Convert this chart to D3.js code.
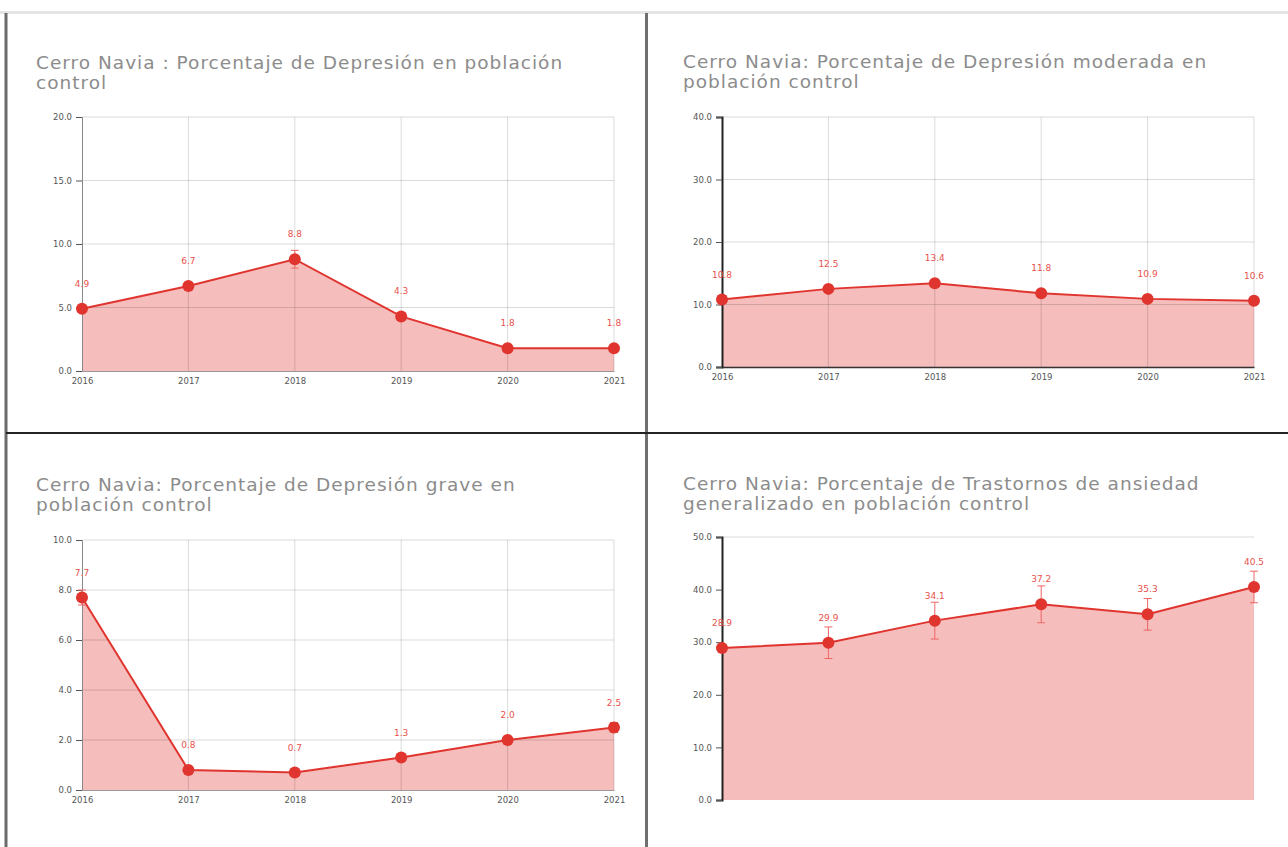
<!DOCTYPE html>
<html>
<head>
<meta charset="utf-8">
<script src="https://cdn.jsdelivr.net/npm/d3@7"></script>
<style>
  body { margin: 0; background: #fff; }
  svg { display: block; }
  .tick text { font-family: "DejaVu Sans", sans-serif; font-size: 8.5px; fill: #555; }
  .title { font-family: "DejaVu Sans", sans-serif; fill: #8c8c8c; letter-spacing: 1px; }
  .vlabel { font-family: "DejaVu Sans", sans-serif; font-size: 9px; fill: #e8524c; }
</style>
</head>
<body>
<div id="vis"></div>
<script>
const W = 1288, H = 847

// data
const years = ["2016", "2017", "2018", "2019", "2020", "2021"]

const titles = [
    ["Cerro Navia : Porcentaje de Depresión en población", "control"],
    ["Cerro Navia: Porcentaje de Depresión moderada en", "población control"],
    ["Cerro Navia: Porcentaje de Depresión grave en", "población control"],
    ["Cerro Navia: Porcentaje de Trastornos de ansiedad", "generalizado  en población control"]
]

const depresion = [4.9, 6.7, 8.8, 4.3, 1.8, 1.8]
const depresionModerada = [10.8, 12.5, 13.4, 11.8, 10.9, 10.6]
const depresionGrave = [7.7, 0.8, 0.7, 1.3, 2.0, 2.5]
const ansiedad = [28.9, 29.9, 34.1, 37.2, 35.3, 40.5]

// half-width of the error bars (0 = none drawn)
const errDepresion = [0, 0, 0.7, 0, 0, 0]
const errModerada = [0, 0, 0, 0, 0, 0]
const errGrave = [0.3, 0, 0, 0, 0, 0.2]
const errAnsiedad = [0, 3.0, 3.5, 3.5, 3.0, 3.0]

const yMax = [20, 40, 10, 50]
const yStep = [5, 10, 2, 10]

const series = [depresion, depresionModerada, depresionGrave, ansiedad]
const errors = [errDepresion, errModerada, errGrave, errAnsiedad]

// layout of each panel (pixel boxes)
const panels = [
    {titleX: 36,  titleY: 69,  left: 82,  right: 614,  top: 117, bottom: 371, axisDark: false, grid: true,  xLabels: true},
    {titleX: 683, titleY: 68,  left: 722, right: 1254, top: 117, bottom: 367, axisDark: true,  grid: true,  xLabels: true},
    {titleX: 36,  titleY: 491, left: 82,  right: 614,  top: 540, bottom: 790, axisDark: false, grid: true,  xLabels: true},
    {titleX: 683, titleY: 490, left: 722, right: 1254, top: 537, bottom: 800, axisDark: true,  grid: false, xLabels: false}
]

const red = "#e0342f"
const areaFill = "#f5bdbb"

const svg = d3.select("#vis").append("svg")
    .attr("width", W)
    .attr("height", H)

// frame lines
svg.append("rect").attr("x", 0).attr("y", 11).attr("width", W).attr("height", 3).attr("fill", "#e4e4e4")
svg.append("line").attr("x1", 6).attr("x2", 6).attr("y1", 13).attr("y2", H)
    .attr("stroke", "#6b6b6b").attr("stroke-width", 3)
svg.append("line").attr("x1", 646.5).attr("x2", 646.5).attr("y1", 13).attr("y2", H)
    .attr("stroke", "#6f6f6f").attr("stroke-width", 3)
svg.append("line").attr("x1", 6).attr("x2", W).attr("y1", 433).attr("y2", 433)
    .attr("stroke", "#222").attr("stroke-width", 2)

panels.forEach((p, i) => {
    const data = series[i].map((v, j) => ({year: years[j], value: v, err: errors[i][j]}))
    const g = svg.append("g")

    const x = d3.scalePoint().domain(years).range([p.left, p.right])
    const y = d3.scaleLinear().domain([0, yMax[i]]).range([p.bottom, p.top])
    const ticks = d3.range(0, yMax[i] + 0.001, yStep[i])

    // title
    const t = g.append("text").attr("class", "title")
        .attr("x", p.titleX)
        .attr("y", p.titleY)
        .style("font-size", "18.5px")
    titles[i].forEach((line, k) => {
        t.append("tspan").attr("x", p.titleX).attr("dy", k == 0 ? 0 : 20).text(line)
    })

    // area under the line
    const area = d3.area()
        .x(d => x(d.year))
        .y0(y(0))
        .y1(d => y(d.value))
    g.append("path").datum(data)
        .attr("d", area)
        .attr("fill", areaFill)

    // grid
    const gridTicks = p.grid ? ticks.slice(1) : [yMax[i]]
    g.selectAll(".hgrid").data(gridTicks).enter().append("line")
        .attr("x1", p.left).attr("x2", p.right)
        .attr("y1", d => y(d)).attr("y2", d => y(d))
        .attr("stroke", "#000").attr("stroke-opacity", 0.14).attr("stroke-width", 1)
    if (p.grid) {
        g.selectAll(".vgrid").data(years.slice(1)).enter().append("line")
            .attr("x1", d => x(d)).attr("x2", d => x(d))
            .attr("y1", p.top).attr("y2", p.bottom)
            .attr("stroke", "#000").attr("stroke-opacity", 0.14).attr("stroke-width", 1)
    }

    // axes
    const yAxis = g.append("g")
        .attr("transform", `translate(${p.left},0)`)
        .call(d3.axisLeft(y).tickValues(ticks).tickFormat(d3.format(".1f")).tickSize(6).tickPadding(4))
    yAxis.select(".domain").attr("stroke", p.axisDark ? "#222" : "#888").attr("stroke-width", p.axisDark ? 2 : 1)
    yAxis.selectAll(".tick line").attr("stroke", "#555")

    const xAxis = g.append("g")
        .attr("transform", `translate(0,${p.bottom})`)
        .call(d3.axisBottom(x).tickSize(0).tickPadding(7))
    xAxis.select(".domain").attr("stroke", p.axisDark ? "#333" : "#999").attr("stroke-width", p.axisDark ? 1.5 : 1)
    if (!p.xLabels) {
        xAxis.selectAll(".tick text").remove()
        xAxis.select(".domain").remove()
    }

    // line
    const line = d3.line().x(d => x(d.year)).y(d => y(d.value))
    g.append("path").datum(data)
        .attr("d", line)
        .attr("fill", "none")
        .attr("stroke", red)
        .attr("stroke-width", 2)

    // error bars
    const eb = g.selectAll(".err").data(data.filter(d => d.err > 0)).enter().append("g")
    eb.append("line")
        .attr("x1", d => x(d.year)).attr("x2", d => x(d.year))
        .attr("y1", d => y(d.value - d.err)).attr("y2", d => y(d.value + d.err))
        .attr("stroke", "#e66").attr("stroke-width", 1)
    eb.selectAll(".cap").data(d => [d.value - d.err, d.value + d.err].map(v => ({year: d.year, v})))
        .enter().append("line")
        .attr("x1", d => x(d.year) - 4).attr("x2", d => x(d.year) + 4)
        .attr("y1", d => y(d.v)).attr("y2", d => y(d.v))
        .attr("stroke", "#e66").attr("stroke-width", 1)

    // points
    g.selectAll(".pt").data(data).enter().append("circle")
        .attr("cx", d => x(d.year))
        .attr("cy", d => y(d.value))
        .attr("r", 6)
        .attr("fill", red)

    // value labels
    g.selectAll(".vlabel").data(data).enter().append("text")
        .attr("class", "vlabel")
        .attr("x", d => x(d.year))
        .attr("y", d => y(d.value) - 22)
        .attr("text-anchor", "middle")
        .text(d => d3.format(".1f")(d.value))
})
</script>
</body>
</html>
